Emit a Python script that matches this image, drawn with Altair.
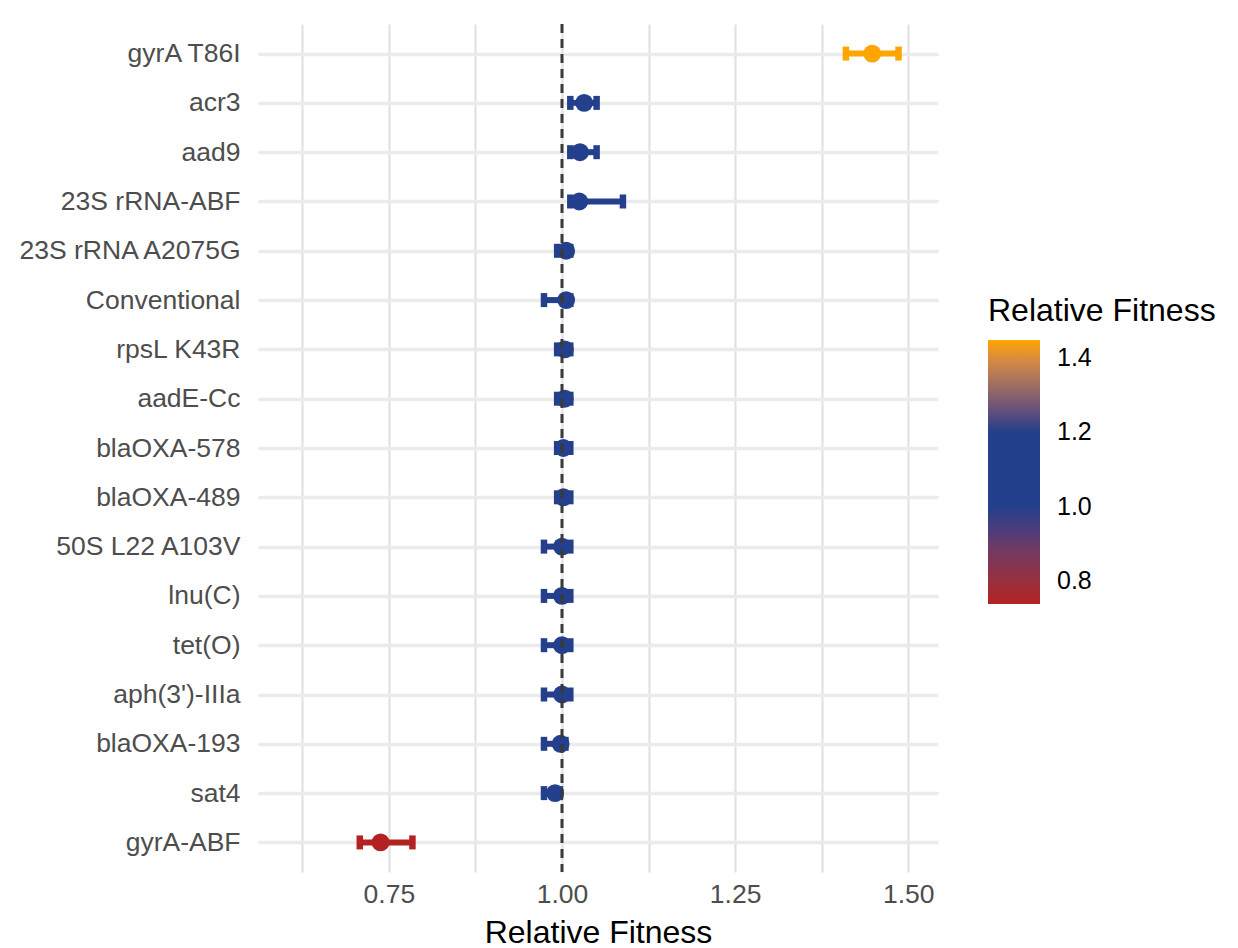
import altair as alt
import pandas as pd

genes = ["gyrA T86I", "acr3", "aad9", "23S rRNA-ABF", "23S rRNA A2075G", "Conventional",
         "rpsL K43R", "aadE-Cc", "blaOXA-578", "blaOXA-489", "50S L22 A103V", "lnu(C)",
         "tet(O)", "aph(3')-IIIa", "blaOXA-193", "sat4", "gyrA-ABF"]
fitness = [1.448, 1.032, 1.026, 1.025, 1.006, 1.006, 1.004, 1.004, 1.002, 1.002,
           1.000, 1.000, 1.000, 1.000, 0.998, 0.990, 0.738]
lower = [1.410, 1.012, 1.012, 1.012, 0.993, 0.974, 0.993, 0.993, 0.993, 0.993,
         0.974, 0.974, 0.974, 0.974, 0.974, 0.974, 0.708]
upper = [1.486, 1.050, 1.050, 1.088, 1.012, 1.012, 1.012, 1.012, 1.012, 1.012,
         1.012, 1.012, 1.012, 1.012, 1.005, 0.997, 0.784]

x_ticks = [0.625, 0.75, 0.875, 1.0, 1.125, 1.25, 1.375, 1.5]
legend_ticks = [0.8, 1.0, 1.2, 1.4]
ref_line = [1.0]

fmin, fmax = min(fitness), max(fitness)
color_domain = [fmin, fmin + (fmax - fmin) / 3, fmin + 2 * (fmax - fmin) / 3, fmax]
color_range = ["#B22222", "#243F8B", "#243F8B", "#FFA500"]

df = pd.DataFrame({"gene": genes, "fit": fitness, "lo": lower, "hi": upper})
ref = pd.DataFrame({"v": ref_line})

xscale = alt.Scale(domain=[0.561, 1.543], nice=False, zero=False)
yscale = alt.Scale(type="point", padding=0.6)

xaxis = alt.Axis(values=x_ticks,
                 labelExpr="(datum.value*8) % 2 == 0 ? format(datum.value, '.2f') : ''",
                 grid=True, gridColor="#E2E2E2", gridWidth=2.2,
                 domain=False, ticks=False,
                 labelFontSize=26.5, labelColor="#4D4D4D", labelPadding=9,
                 title="Relative Fitness", titleFontSize=32, titleFontWeight="normal",
                 titleColor="black", titlePadding=10)
yaxis = alt.Axis(grid=True, gridColor="#EBEBEB", gridWidth=3.5, domain=False, ticks=False,
                 labelFontSize=26.5, labelColor="#4D4D4D", labelPadding=18, labelLimit=400,
                 title=None)

legend = alt.Legend(type="gradient", title="Relative Fitness", orient="none",
                    legendX=730, legendY=272,
                    titleFontSize=32, titleFontWeight="normal",
                    titleColor="black", titlePadding=12, titleLimit=400,
                    gradientLength=264, gradientThickness=52,
                    gradientStrokeWidth=0,
                    labelFontSize=25, labelColor="black", labelOffset=17,
                    values=legend_ticks, format=".1f")
cscale = alt.Scale(domain=color_domain, range=color_range, interpolate="lab")
color_enc = alt.Color("fit:Q", scale=cscale, legend=legend)
color_nl = alt.Color("fit:Q", scale=cscale, legend=None)

y_enc = alt.Y("gene:N", sort=genes, scale=yscale, axis=yaxis)

bars = alt.Chart(df).mark_rule(strokeWidth=6).encode(
    y=y_enc, x=alt.X("lo:Q", scale=xscale, axis=xaxis), x2="hi:Q", color=color_nl)
cap_lo = alt.Chart(df).mark_tick(size=14, thickness=6.5, opacity=1).encode(
    y=alt.Y("gene:N", sort=genes), x=alt.X("lo:Q"), color=color_nl)
cap_hi = alt.Chart(df).mark_tick(size=14, thickness=6.5, opacity=1).encode(
    y=alt.Y("gene:N", sort=genes), x=alt.X("hi:Q"), color=color_nl)
points = alt.Chart(df).mark_circle(size=320, opacity=1).encode(
    y=alt.Y("gene:N", sort=genes), x=alt.X("fit:Q"), color=color_enc)
vline = alt.Chart(ref).mark_rule(strokeDash=[9, 6], color="#3A3A3A", strokeWidth=3).encode(
    x=alt.X("v:Q"))

chart = alt.layer(bars, cap_lo, cap_hi, points, vline).resolve_legend(
    color="independent"
).properties(
    width=680, height=848,
    autosize=alt.AutoSizeParams(type="none"),
    padding={"left": 250, "top": 16, "right": 282, "bottom": 86},
).configure(font="Liberation Sans").configure_view(strokeWidth=0)

chart.save("out.html", embed_options={"renderer": "svg", "actions": False})
